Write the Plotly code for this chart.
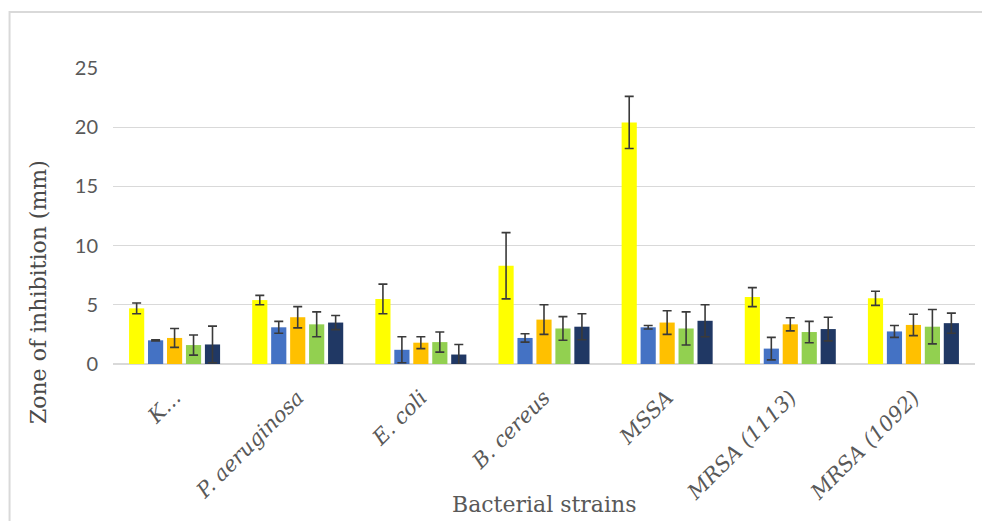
import plotly.graph_objects as go

# Bacterial strains on the category axis
strains = ["K...", "P. aeruginosa", "E. coli", "B. cereus", "MSSA", "MRSA (1113)", "MRSA (1092)"]

# Mean zone of inhibition (mm) and standard deviation for each treatment
s1_mean = [4.7, 5.4, 5.5, 8.3, 20.4, 5.65, 5.55]
s1_err = [0.45, 0.4, 1.25, 2.8, 2.2, 0.8, 0.6]

s2_mean = [2.0, 3.1, 1.2, 2.2, 3.1, 1.3, 2.75]
s2_err = [0.05, 0.5, 1.1, 0.35, 0.15, 0.95, 0.5]

s3_mean = [2.2, 3.95, 1.8, 3.75, 3.5, 3.35, 3.3]
s3_err = [0.8, 0.9, 0.5, 1.25, 1.0, 0.55, 0.9]

s4_mean = [1.6, 3.35, 1.85, 3.0, 3.0, 2.7, 3.15]
s4_err = [0.85, 1.05, 0.85, 1.0, 1.4, 0.9, 1.45]

s5_mean = [1.65, 3.5, 0.8, 3.15, 3.65, 2.95, 3.45]
s5_err = [1.55, 0.6, 0.85, 1.1, 1.35, 1.0, 0.85]

series = [
    ("Series 1", s1_mean, s1_err, "#FFFF00"),
    ("Series 2", s2_mean, s2_err, "#4472C4"),
    ("Series 3", s3_mean, s3_err, "#FFC000"),
    ("Series 4", s4_mean, s4_err, "#92D050"),
    ("Series 5", s5_mean, s5_err, "#203864"),
]

fig = go.Figure()
for name, mean, err, color in series:
    fig.add_trace(go.Bar(
        x=strains,
        y=mean,
        name=name,
        marker=dict(color=color, line=dict(width=0)),
        error_y=dict(type="data", array=err, visible=True,
                     color="#3A3A3A", thickness=1.6, width=4.5),
        showlegend=False,
    ))

serif = "DejaVu Serif"
sans = "Lato"

fig.update_layout(
    width=982,
    height=521,
    margin=dict(l=113, r=7, t=68, b=157),
    paper_bgcolor="white",
    plot_bgcolor="white",
    barmode="group",
    bargap=0.23,
    bargroupgap=0.2,
    xaxis=dict(
        type="category",
        tickangle=-45,
        tickfont=dict(family=serif, size=21, color="#595959", style="italic"),
        ticklabelstandoff=12,
        showgrid=False,
        showline=True,
        linecolor="#D9D9D9",
        linewidth=1,
        ticks="",
    ),
    yaxis=dict(
        range=[0, 25],
        tickvals=[0, 5, 10, 15, 20, 25],
        tickfont=dict(family=sans, size=20, color="#595959"),
        ticklabelstandoff=14,
        showgrid=True,
        gridcolor="#D9D9D9",
        gridwidth=1,
        zeroline=True,
        zerolinecolor="#D9D9D9",
        showline=False,
        ticks="",
        ticklen=0,
    ),
)

# Axis titles
fig.add_annotation(text="Zone of inhibition (mm)", xref="paper", yref="paper",
                   x=-0.087, y=0.243, textangle=-90, showarrow=False,
                   xanchor="center", yanchor="middle",
                   font=dict(family=serif, size=22, color="#4A4A4A"))
fig.add_annotation(text="Bacterial strains", xref="paper", yref="paper",
                   x=0.5, y=-0.475, showarrow=False,
                   xanchor="center", yanchor="middle",
                   font=dict(family=serif, size=22, color="#595959"))

# Light chart-area frame (left and top edges visible)
fig.add_shape(type="rect", xref="paper", yref="paper",
              x0=-0.12, x1=1.2, y0=-0.7, y1=1.189,
              line=dict(color="#D9D9D9", width=2), layer="below")

fig.write_html("out.html")
